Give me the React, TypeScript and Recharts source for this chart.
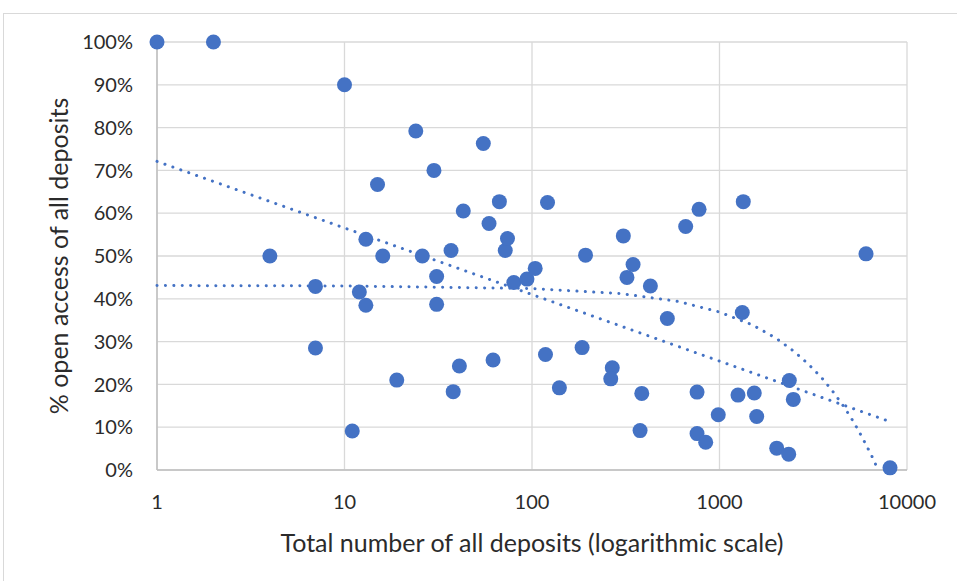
import {
  CartesianGrid,
  ComposedChart,
  Label,
  Scatter,
  XAxis,
  YAxis,
} from "recharts";

// total deposits per repository (x) and share of open access (y, %)
const deposits = [
  1, 2, 10, 4, 7, 7, 11, 12, 13, 13, 15, 16, 19, 24, 26, 30, 31, 31, 37, 38, 41,
  43, 55, 59, 62, 67, 72, 74, 80, 94, 104, 118, 121, 140, 185, 193, 268, 263,
  307, 321, 346, 385, 377, 428, 527, 660, 759, 778, 759, 844, 985, 1255, 1339,
  1323, 1533, 1579, 2019, 2339, 2357, 2475, 6045, 8117,
];
const openShare = [
  100, 100, 90, 50, 42.9, 28.5, 9.1, 41.6, 53.9, 38.5, 66.7, 50, 21, 79.2, 50,
  70, 45.2, 38.7, 51.3, 18.3, 24.3, 60.5, 76.3, 57.6, 25.7, 62.7, 51.3, 54.1,
  43.8, 44.6, 47.1, 27, 62.5, 19.2, 28.6, 50.2, 23.9, 21.3, 54.7, 45, 48, 17.9,
  9.2, 43, 35.4, 56.9, 18.2, 60.9, 8.5, 6.5, 12.9, 17.5, 62.7, 36.8, 18, 12.5,
  5.1, 3.7, 20.9, 16.5, 50.5, 0.5,
];

// logarithmic trendline, read at both ends
const logTrendX = [1, 8117];
const logTrendY = [72.1, 11.3];

// linear trendline (bends on the log axis)
const linTrendX = [
  1, 10, 100, 300, 600, 1000, 1500, 2000, 2500, 3000, 3500, 4000, 4500, 5000,
  5500, 6000, 6500, 7000,
];
const linTrendY = [
  43.1, 43.0, 42.4, 41.2, 39.4, 36.9, 33.9, 30.8, 27.7, 24.6, 21.6, 18.5, 15.4,
  12.4, 9.3, 6.2, 3.2, 0.1,
];

const xTicks = [1, 10, 100, 1000, 10000];
const yTicks = [0, 10, 20, 30, 40, 50, 60, 70, 80, 90, 100];

const BLUE = "#4472C4";
const TEXT = "#2b2b2b";
const FONT = "Lato, 'Noto Sans', sans-serif";

const points = deposits.map((x, i) => ({ x, y: openShare[i] }));
const logTrend = logTrendX.map((x, i) => ({ x, y: logTrendY[i] }));
const linTrend = linTrendX.map((x, i) => ({ x, y: linTrendY[i] }));

const dotted = {
  stroke: BLUE,
  strokeWidth: 3,
  strokeDasharray: "0.1 8.3",
  strokeLinecap: "round" as const,
};

export default function App() {
  return (
    <div style={{ position: "absolute", left: 0, top: 0, width: 957, height: 581, background: "#fff" }}>
      <div
        style={{
          position: "absolute",
          left: 3,
          top: 13,
          right: 0,
          bottom: 0,
          borderLeft: "1px solid #D9D9D9",
          borderTop: "1px solid #D9D9D9",
        }}
      />
      <div style={{ position: "absolute", left: 0, top: 0 }}>
        <ComposedChart
          width={957}
          height={581}
          margin={{ top: 42, right: 50, bottom: 11, left: 57 }}
          style={{ fontFamily: FONT }}
        >
          <CartesianGrid stroke="#D9D9D9" strokeWidth={1.3} />
          <XAxis
            dataKey="x"
            type="number"
            scale="log"
            domain={[1, 10000]}
            ticks={xTicks}
            height={100}
            tickLine={false}
            tickSize={0}
            tickMargin={25}
            axisLine={{ stroke: "#BFBFBF", strokeWidth: 1.5 }}
            tick={{ fill: TEXT, fontSize: 20 }}
          >
            <Label
              value="Total number of all deposits (logarithmic scale)"
              position="insideBottom"
              offset={18}
              style={{ fill: TEXT, fontSize: 25 }}
            />
          </XAxis>
          <YAxis
            dataKey="y"
            type="number"
            domain={[0, 100]}
            ticks={yTicks}
            width={100}
            tickLine={false}
            tickSize={0}
            tickMargin={24}
            axisLine={{ stroke: "#BFBFBF", strokeWidth: 1.5 }}
            tick={{ fill: TEXT, fontSize: 20 }}
            tickFormatter={(v) => `${v}%`}
          >
            <Label
              value="% open access of all deposits"
              angle={-90}
              position="insideLeft"
              offset={2}
              style={{ fill: TEXT, fontSize: 25, textAnchor: "middle" }}
            />
          </YAxis>
          <Scatter
            data={logTrend}
            line={dotted}
            shape={() => <g />}
            isAnimationActive={false}
          />
          <Scatter
            data={linTrend}
            line={dotted}
            shape={() => <g />}
            isAnimationActive={false}
          />
          <Scatter
            data={points}
            fill={BLUE}
            shape={(p: any) => <circle cx={p.cx} cy={p.cy} r={7.5} fill={BLUE} />}
            isAnimationActive={false}
          />
        </ComposedChart>
      </div>
    </div>
  );
}
